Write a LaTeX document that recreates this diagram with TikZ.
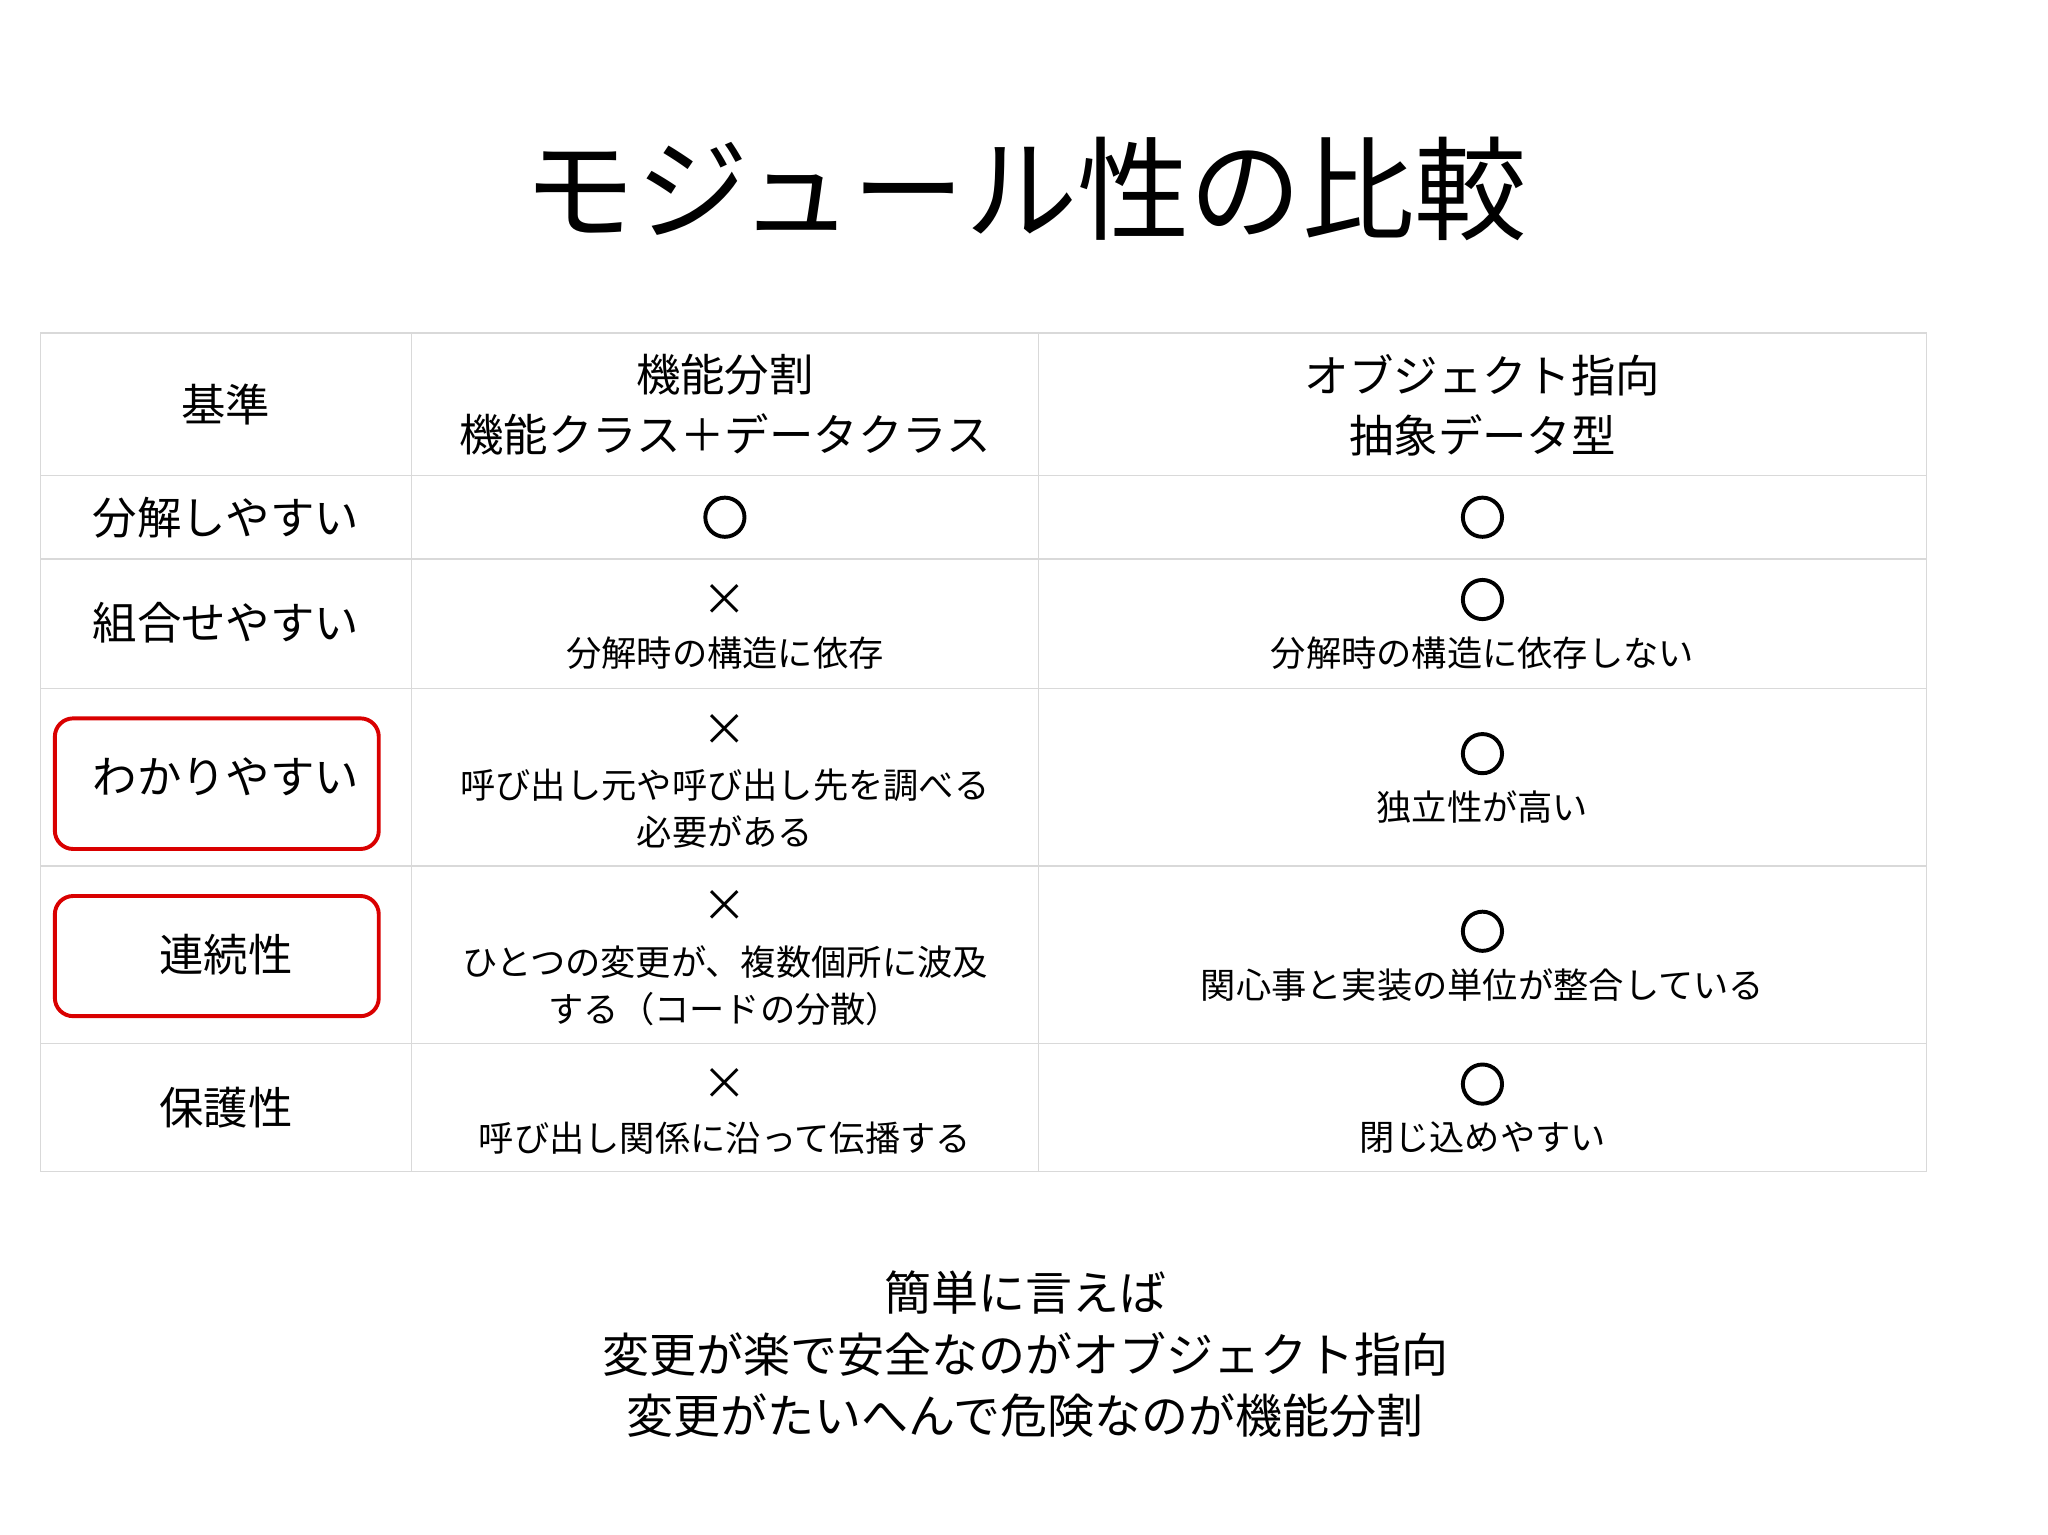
\documentclass[tikz,border=0pt]{standalone}
\usepackage{fontspec}
\setmainfont{Noto Sans CJK JP}
\begin{document}
\begin{tikzpicture}[x=1pt,y=-1pt,
  grid/.style={draw=black!15,line width=1pt},
  hd/.style={font=\fontsize{34}{46}\selectfont,align=center},
  cell/.style={font=\fontsize{27}{36}\selectfont,align=center},
  okmark/.style={draw=black,line width=3pt,circle,minimum size=30pt,inner sep=0pt},
  redbox/.style={draw=red!85!black,line width=3pt,rounded corners=14pt}]
\useasboundingbox (0,0) rectangle (1568,1175);
\foreach \y in {255,364,428,527,663,799,897} \draw[grid] (31,\y) -- (1475,\y);
\foreach \x in {31,315,795,1475} \draw[grid] (\x,255) -- (\x,897);
\node[font=\fontsize{86}{100}\selectfont] (title) at (785,145) {モジュール性の比較};
\node[hd] (h1) at (173,310) {基準};
\node[hd] (h2) at (555,310) {機能分割\\機能クラス＋データクラス};
\node[hd] (h3) at (1135,310) {オブジェクト指向\\抽象データ型};
\node[hd] (r1) at (173,396) {分解しやすい};
\node[hd] (r2) at (173,477) {組合せやすい};
\node[hd] (r3) at (173,595) {わかりやすい};
\node[hd] (r4) at (173,731) {連続性};
\node[hd] (r5) at (173,848) {保護性};
\draw[redbox] (42,550) rectangle (290,650);
\draw[redbox] (42,686) rectangle (290,778);
\node[okmark] (c21) at (555,396) {};
\node[cell,font=\fontsize{34}{36}\selectfont] (x22) at (555,459) {×};
\node[cell] (t22) at (555,500) {分解時の構造に依存};
\node[cell,font=\fontsize{34}{36}\selectfont] (x23) at (555,559) {×};
\node[cell] (t23) at (555,619) {呼び出し元や呼び出し先を調べる\\必要がある};
\node[cell,font=\fontsize{34}{36}\selectfont] (x24) at (555,694) {×};
\node[cell] (t24) at (555,755) {ひとつの変更が、複数個所に波及\\する（コードの分散）};
\node[cell,font=\fontsize{34}{36}\selectfont] (x25) at (555,830) {×};
\node[cell] (t25) at (555,871) {呼び出し関係に沿って伝播する};
\node[okmark] (c31) at (1135,396) {};
\node[okmark] (c32) at (1135,459) {};
\node[cell] (t32) at (1135,500) {分解時の構造に依存しない};
\node[okmark] (c33) at (1135,577) {};
\node[cell] (t33) at (1135,618) {独立性が高い};
\node[okmark] (c34) at (1135,713) {};
\node[cell] (t34) at (1135,754) {関心事と実装の単位が整合している};
\node[okmark] (c35) at (1135,830) {};
\node[cell] (t35) at (1135,871) {閉じ込めやすい};
\node[font=\fontsize{36}{47}\selectfont,align=center] (sum) at (785,1037)
 {簡単に言えば\\変更が楽で安全なのがオブジェクト指向\\変更がたいへんで危険なのが機能分割};
\end{tikzpicture}
\end{document}
